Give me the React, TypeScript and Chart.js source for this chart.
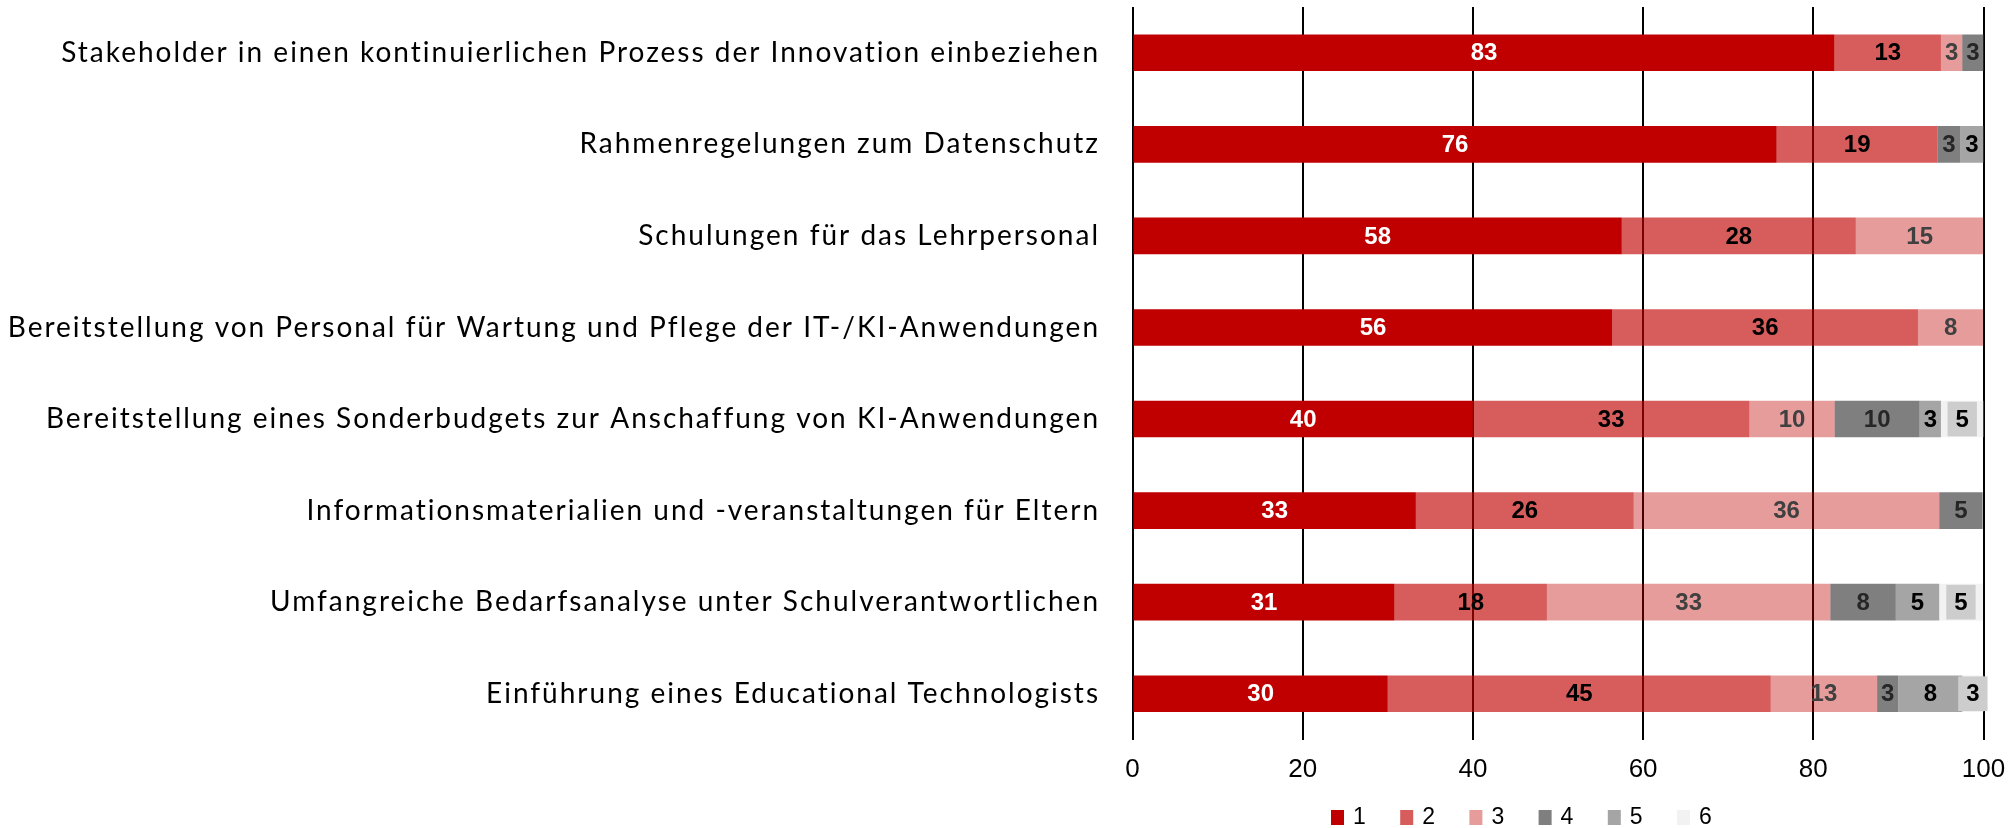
import React, { useEffect, useRef } from "react";
import { Chart, registerables } from "chart.js";

Chart.register(...registerables);

const categories = [
  "Stakeholder in einen kontinuierlichen Prozess der Innovation einbeziehen",
  "Rahmenregelungen zum Datenschutz",
  "Schulungen für das Lehrpersonal",
  "Bereitstellung von Personal für Wartung und Pflege der IT-/KI-Anwendungen",
  "Bereitstellung eines Sonderbudgets zur Anschaffung von KI-Anwendungen",
  "Informationsmaterialien und -veranstaltungen für Eltern",
  "Umfangreiche Bedarfsanalyse unter Schulverantwortlichen",
  "Einführung eines Educational Technologists",
];

const seriesLabels = ["1", "2", "3", "4", "5", "6"];

const s1 = [82.5, 75.7, 57.5, 56.4, 40.0, 33.3, 30.8, 30.0];
const s2 = [12.5, 18.9, 27.5, 35.9, 32.5, 25.6, 17.9, 45.0];
const s3 = [2.5, 0, 15.0, 7.7, 10.0, 35.9, 33.3, 12.5];
const s4 = [2.5, 2.7, 0, 0, 10.0, 5.1, 7.7, 2.5];
const s5 = [0, 2.7, 0, 0, 2.5, 0, 5.1, 7.5];
const s6 = [0, 0, 0, 0, 5.0, 0, 5.1, 2.5];

const xTicks = [0, 20, 40, 60, 80, 100];

const seriesValues = [s1, s2, s3, s4, s5, s6];
const seriesColors = [
  "#C00000",
  "rgba(192,0,0,0.64)",
  "rgba(192,0,0,0.39)",
  "#7F7F7F",
  "#A5A5A5",
  "#F2F2F2",
];
const labelColors = ["#FFFFFF", "#000000", "#404040", "#262626", "#000000", "#000000"];

const segLabelPlugin = {
  id: "segLabels",
  afterDatasetsDraw(chart: any) {
    const ctx = chart.ctx;
    ctx.save();
    ctx.font = "bold 24px 'Liberation Sans', Arial, sans-serif";
    ctx.textAlign = "center";
    ctx.textBaseline = "middle";
    chart.data.datasets.forEach((ds: any, di: number) => {
      const meta = chart.getDatasetMeta(di);
      meta.data.forEach((bar: any, i: number) => {
        const v = ds.data[i];
        if (!v) return;
        const p = bar.getProps(["x", "y", "base", "height"], true);
        const cx = (p.x + p.base) / 2;
        const txt = String(Math.round(v));
        if (di === 5) {
          const w = ctx.measureText(txt).width + 16;
          ctx.fillStyle = "#CDCDCD";
          ctx.fillRect(cx - w / 2, p.y - p.height / 2 + 1, w, p.height - 2);
        }
        ctx.fillStyle = labelColors[di];
        ctx.fillText(txt, cx, p.y + 1);
      });
    });
    ctx.restore();
  },
};

const legendPlugin = {
  id: "customLegend",
  afterDraw(chart: any) {
    const ctx = chart.ctx;
    const area = chart.chartArea;
    const startX = area.left + 198.5;
    const step = 69.2;
    const boxTop = chart.scales.x.bottom + 9.3;
    ctx.save();
    ctx.font = "23px 'Liberation Sans', Arial, sans-serif";
    ctx.textAlign = "left";
    ctx.textBaseline = "middle";
    chart.data.datasets.forEach((ds: any, i: number) => {
      const x = startX + i * step;
      ctx.fillStyle = ds.backgroundColor;
      ctx.fillRect(x, boxTop, 13, 15);
      ctx.fillStyle = "#000000";
      ctx.fillText(ds.label, x + 22, boxTop + 8);
    });
    ctx.restore();
  },
};

const spacingPlugin = {
  id: "yLabelSpacing",
  afterLayout(chart: any) {
    const s = chart.scales.y;
    if (s && !s.__spaced) {
      const orig = s.drawLabels.bind(s);
      s.drawLabels = (ca: any) => {
        const ctx = chart.ctx;
        const prev = ctx.letterSpacing;
        ctx.letterSpacing = "2px";
        orig(ca);
        ctx.letterSpacing = prev || "0px";
      };
      s.__spaced = true;
    }
  },
};

export default function App() {
  const canvasRef = useRef<HTMLCanvasElement | null>(null);

  useEffect(() => {
    if (!canvasRef.current) return;
    const chart = new Chart(canvasRef.current, {
      type: "bar",
      data: {
        labels: categories,
        datasets: seriesValues.map((vals, i) => ({
          label: seriesLabels[i],
          data: vals,
          backgroundColor: seriesColors[i],
          borderWidth: 0,
          categoryPercentage: 1,
          barPercentage: 0.4,
        })),
      },
      options: {
        indexAxis: "y",
        animation: false,
        responsive: true,
        maintainAspectRatio: false,
        layout: { padding: { top: 7, right: 30.5, bottom: 27.3, left: 0 } },
        plugins: {
          legend: { display: false },
          tooltip: { enabled: false },
        },
        scales: {
          x: {
            stacked: true,
            min: 0,
            max: 100,
            afterBuildTicks: (scale: any) => {
              scale.ticks = xTicks.map((v) => ({ value: v }));
            },
            afterFit: (scale: any) => {
              scale.paddingLeft = 0;
              scale.paddingRight = 0;
            },
            ticks: {
              color: "#000000",
              padding: 15,
              font: { family: "'Liberation Sans', Arial, sans-serif", size: 26 },
            },
            grid: { color: "#000000", lineWidth: 2, drawTicks: false },
            border: { display: false },
          },
          y: {
            stacked: true,
            afterFit: (scale: any) => {
              scale.width = 1132.5;
              scale.paddingTop = 0;
              scale.paddingBottom = 0;
            },
            ticks: {
              color: "#000000",
              padding: 32.5,
              font: { family: "Lato, 'Open Sans', sans-serif", size: 28 },
            },
            grid: { display: false, drawTicks: false, tickLength: 0 },
            border: { display: false },
          },
        },
      },
      plugins: [segLabelPlugin, legendPlugin, spacingPlugin],
    } as any);
    return () => chart.destroy();
  }, []);

  return (
    <div style={{ position: "absolute", left: 0, top: 0, width: 2014, height: 828, background: "#fff" }}>
      <canvas ref={canvasRef} />
    </div>
  );
}
